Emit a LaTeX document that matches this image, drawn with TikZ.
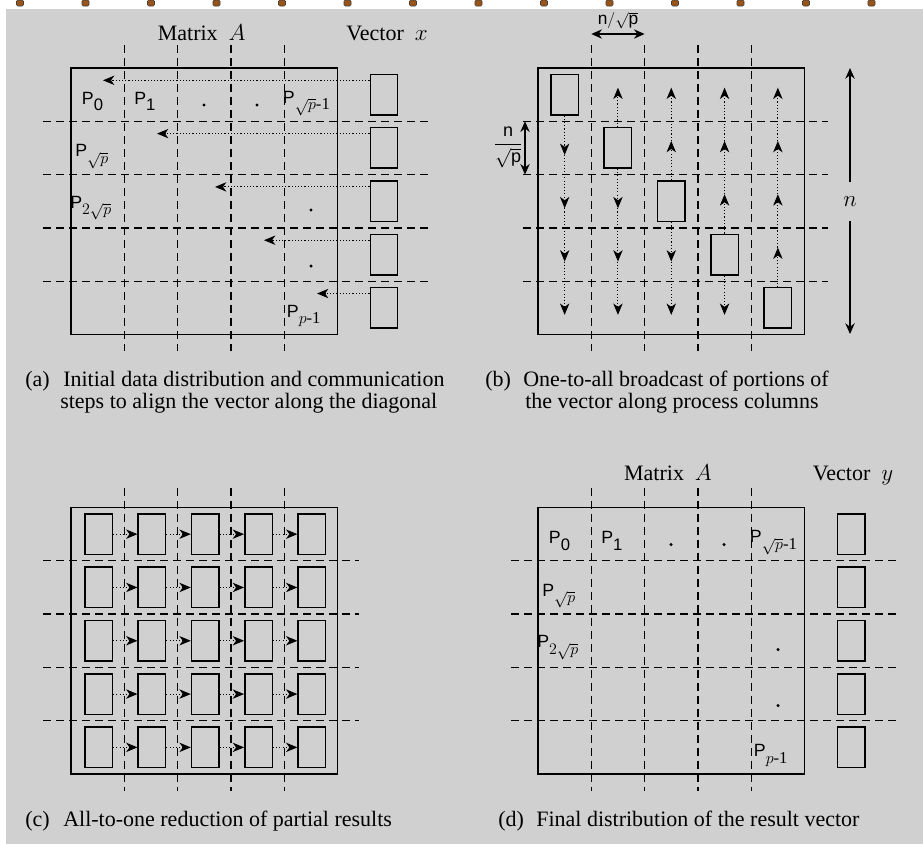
\documentclass[tikz,border=0pt]{standalone}
\usepackage{fontspec}
\setmainfont{Liberation Serif}
\setsansfont{Liberation Sans}
\usetikzlibrary{arrows.meta}
\definecolor{bgray}{HTML}{D0D0D0}
\definecolor{pinbrown}{HTML}{9A5418}
\newcommand\Plab[1]{\textsf{P}\raisebox{-5pt}{\fontsize{12.5}{12.5}\selectfont #1}}
\newcommand\matlabels[1]{%
  \node[plab] (#1p0) at (10.7,36.3) {\Plab{\textsf{0}}};
  \node[plab] (#1p1) at (63,36.3) {\Plab{\textsf{1}}};
  \node[plab] (#1pr) at (211.7,35.3) {\Plab{$\sqrt{p}$-1}};
  \node[plab] (#1ps) at (4,88.7) {\Plab{$\sqrt{p}$}};
  \node[plab] (#1p2s) at (-1,140) {\Plab{$2\sqrt{p}$}};
  \node[plab] (#1pl) at (215.7,249) {\Plab{$p$-1}};
  \node[dotmark] (#1d1) at (133,37) {};
  \node[dotmark] (#1d2) at (186,37) {};
  \node[dotmark] (#1d3) at (240,142) {};
  \node[dotmark] (#1d4) at (240,198) {};
}
\begin{document}
\begin{tikzpicture}[x=0.75pt,y=-0.75pt,
  frame/.style={line width=1.1pt},
  gridline/.style={line width=1pt, dash pattern=on 6pt off 3.75pt},
  cellbox/.style={draw, line width=1.1pt, minimum width=20.6pt, minimum height=30.4pt, inner sep=0pt},
  comm/.style={line width=0.8pt, dash pattern=on 0.8pt off 1.6pt, -{Stealth[length=8.5pt,width=7pt,inset=2.5pt]}},
  dimarrow/.style={line width=1.1pt, {Stealth[length=8pt,width=7pt]}-{Stealth[length=8pt,width=7pt]}},
  onearrow/.style={line width=1.1pt, -{Stealth[length=8pt,width=7pt]}},
  plab/.style={anchor=base west, inner sep=0pt, font=\fontsize{13.3}{15}\selectfont},
  ttl/.style={anchor=base, inner sep=0pt, font=\fontsize{16.5}{19}\selectfont},
  captxt/.style={anchor=base west, inner sep=0pt, font=\fontsize{16.5}{19}\selectfont},
  dotmark/.style={circle, fill, inner sep=0pt, minimum size=2.6pt},
]
\useasboundingbox (0,0) rectangle (923,844);
\fill[white] (0,0) rectangle (923,844);
\fill[bgray] (6,9) rectangle (923,844);
\foreach \i in {0,...,13}
  \filldraw[fill=pinbrown, draw=black!75, line width=0.4pt, rounded corners=1pt] ({16.5+65.5*\i},0) rectangle ++(7,6);

% ---------------- panel (a)
\begin{scope}[shift={(71,68)}]
  \foreach \k in {1,...,4} {
    \draw[gridline] (\k*53.3,-23) -- (\k*53.3,283);
    \draw[gridline] (-28,\k*53.3) -- (359,\k*53.3);
  }
  \draw[frame] (0,0) rectangle (266.5,266.5);
  \matlabels{a}
  \foreach \i in {1,...,5} \node[cellbox] (vx\i) at (313,{53.3*(\i-0.5)}) {};
  \coordinate (ta1) at (32,12.3);
  \coordinate (ta2) at (86,65.6);
  \coordinate (ta3) at (144,118.9);
  \coordinate (ta4) at (193,172.2);
  \coordinate (ta5) at (246,225.5);
  \foreach \i in {1,...,5} \draw[comm] (vx\i.west |- ta\i) -- (ta\i);
\end{scope}
\node[ttl] (matA) at (201.7,40.7) {Matrix\ \ $A$};
\node[ttl] (vecx) at (387,40.7) {Vector\ \ $x$};
\node[captxt] (capa) at (25,386) {(a)};
\node[captxt] (capa1) at (63,386) {Initial data distribution and communication};
\node[captxt] (capa2) at (60,408) {steps to align the vector along the diagonal};

% ---------------- panel (b)
\begin{scope}[shift={(538,68)}]
  \foreach \k in {1,...,4} {
    \draw[gridline] (\k*53.3,-23) -- (\k*53.3,283);
    \draw[gridline] (-15,\k*53.3) -- (290,\k*53.3);
  }
  \draw[frame] (0,0) rectangle (266.5,266.5);
  \foreach \j in {1,...,5} \node[cellbox] (bd\j) at ({53.3*(\j-0.5)},{53.3*(\j-0.5)}) {};
  \foreach \j in {1,...,5} {
    \foreach \i in {1,...,5} {
      \ifnum\i<\j \coordinate (bt\i\j) at ({53.3*(\j-0.5)},{53.3*(\i-0.5)-7}); \fi
      \ifnum\i>\j \coordinate (bt\i\j) at ({53.3*(\j-0.5)},{53.3*(\i-0.5)+7}); \fi
    }
  }
  \foreach \a/\b in {bd1.south/bt21, bt21/bt31, bt31/bt41, bt41/bt51,
                     bd2.north/bt12, bd2.south/bt32, bt32/bt42, bt42/bt52,
                     bd3.north/bt23, bt23/bt13, bd3.south/bt43, bt43/bt53,
                     bd4.north/bt34, bt34/bt24, bt24/bt14, bd4.south/bt54,
                     bd5.north/bt45, bt45/bt35, bt35/bt25, bt25/bt15}
    \draw[comm] (\a) -- (\b);
\end{scope}
\coordinate (dl) at (591.3,34);
\coordinate (dr) at (644.6,34);
\draw[dimarrow] (dl) -- (dr);
\node[inner sep=0pt, font=\fontsize{13}{15}\selectfont] (dimtop) at (618,21) {$\mathsf{n}/\sqrt{\mathsf{p}}$};
\coordinate (lt) at (525,121.3);
\coordinate (lb) at (525,174.6);
\draw[dimarrow] (lt) -- (lb);
\node[anchor=east, inner sep=0pt, font=\fontsize{13.5}{15}\selectfont] (dimleft) at (523,147.5) {$\displaystyle\frac{\mathsf{n}}{\sqrt{\mathsf{p}}}$};
\coordinate (nt) at (850,68);
\coordinate (nb) at (850,334);
\node[inner sep=0pt, minimum height=28.5pt, font=\fontsize{16.5}{19}\selectfont] (nl) at (850,201.7) {$n$};
\draw[onearrow] (nl) -- (nt);
\draw[onearrow] (nl) -- (nb);
\node[captxt] (capb) at (485,386) {(b)};
\node[captxt] (capb1) at (523,386) {One-to-all broadcast of portions of};
\node[captxt] (capb2) at (525,408) {the vector along process columns};

% ---------------- panel (c)
\begin{scope}[shift={(71,507.5)}]
  \foreach \k in {1,...,4} {
    \draw[gridline] (\k*53.3,-20) -- (\k*53.3,283);
    \draw[gridline] (-28,\k*53.3) -- (288,\k*53.3);
  }
  \draw[frame] (0,0) rectangle (266.5,266.5);
  \foreach \i in {1,...,5} {
    \foreach \j in {1,...,5} {
      \node[cellbox] (cb\i\j) at ({53.3*(\j-0.5)+1},{53.3*(\i-0.5)}) {};
    }
  }
  \foreach \i in {1,...,5} {
    \foreach \j/\m in {1/2,2/3,3/4,4/5} {
      \draw[comm] (cb\i\j.east) -- (cb\i\m.west);
    }
  }
\end{scope}
\node[captxt] (capc) at (25,826) {(c)};
\node[captxt] (capc1) at (63,826) {All-to-one reduction of partial results};

% ---------------- panel (d)
\begin{scope}[shift={(538,507.5)}]
  \foreach \k in {1,...,4} {
    \draw[gridline] (\k*53.3,-20) -- (\k*53.3,283);
    \draw[gridline] (-27,\k*53.3) -- (360,\k*53.3);
  }
  \draw[frame] (0,0) rectangle (266.5,266.5);
  \matlabels{d}
  \foreach \i in {1,...,5} \node[cellbox] (vy\i) at (313.3,{53.3*(\i-0.5)}) {};
\end{scope}
\node[ttl] (matAd) at (668,480.7) {Matrix\ \ $A$};
\node[ttl] (vecy) at (853,480.7) {Vector\ \ $y$};
\node[captxt] (capd) at (498,826) {(d)};
\node[captxt] (capd1) at (536,826) {Final distribution of the result vector};
\end{tikzpicture}
\end{document}
